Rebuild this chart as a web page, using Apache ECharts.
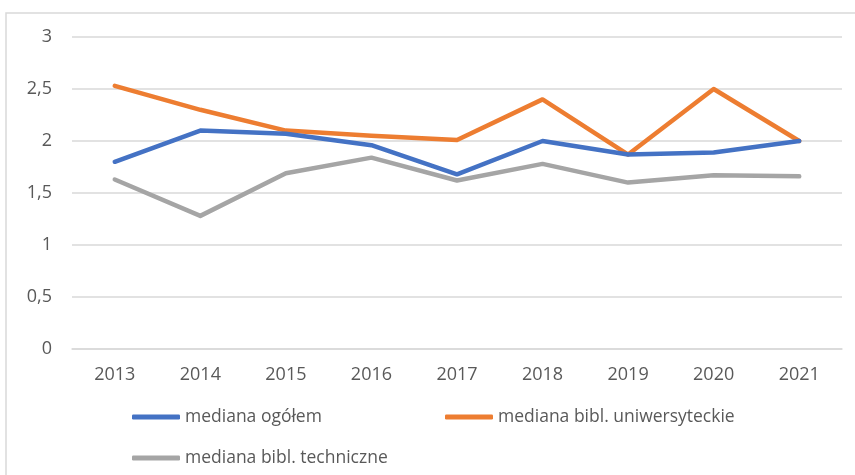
<!DOCTYPE html>
<html>
<head>
<meta charset="utf-8">
<script src="https://cdn.jsdelivr.net/npm/echarts@6/dist/echarts.min.js"></script>
<style>
html,body{margin:0;padding:0;background:#fff;}
#chart{width:855px;height:475px;}
</style>
</head>
<body>
<div id="chart"></div>
<script>
const years = ['2013','2014','2015','2016','2017','2018','2019','2020','2021'];
const medianaOgolem = [1.80, 2.10, 2.07, 1.96, 1.68, 2.00, 1.87, 1.89, 2.00];
const medianaUniwersyteckie = [2.53, 2.30, 2.10, 2.05, 2.01, 2.40, 1.87, 2.50, 2.00];
const medianaTechniczne = [1.63, 1.28, 1.69, 1.84, 1.62, 1.78, 1.60, 1.67, 1.66];
const seriesNames = ['mediana ogółem', 'mediana bibl. uniwersyteckie', 'mediana bibl. techniczne'];
const colors = ['#4472C4', '#ED7D31', '#A5A5A5'];

const font = '"Open Sans", "Liberation Sans", sans-serif';
const chart = echarts.init(document.getElementById('chart'), null, {renderer: 'canvas'});

function legendAt(name, left, top) {
  return {
    data: [name], left: left, top: top, orient: 'horizontal',
    icon: 'roundRect', itemWidth: 48, itemHeight: 5,
    textStyle: {color: '#595959', fontSize: 17.5, fontFamily: font},
    selectedMode: false
  };
}

chart.setOption({
  animation: false,
  backgroundColor: '#ffffff',
  color: colors,
  graphic: [{
    type: 'rect', shape: {x: 6, y: 13, width: 870, height: 480},
    style: {fill: 'none', stroke: '#d9d9d9', lineWidth: 1.5}, silent: true
  }],
  grid: {left: 72, right: 13, top: 37, bottom: 126, containLabel: false},
  legend: [
    legendAt(seriesNames[0], 127, 403),
    legendAt(seriesNames[1], 440, 403),
    legendAt(seriesNames[2], 127, 444)
  ],
  xAxis: {
    type: 'category', data: years, boundaryGap: true,
    axisLine: {show: true, lineStyle: {color: '#d9d9d9', width: 1.5}},
    axisTick: {show: false},
    axisLabel: {color: '#595959', fontSize: 18, fontFamily: font, margin: 17}
  },
  yAxis: {
    type: 'value', min: 0, max: 3, interval: 0.5,
    axisLine: {show: false}, axisTick: {show: false},
    splitLine: {lineStyle: {color: '#d9d9d9', width: 1.5}},
    axisLabel: {color: '#595959', fontSize: 18, fontFamily: font, margin: 20,
      formatter: v => String(v).replace('.', ',')}
  },
  series: [
    {name: seriesNames[0], type: 'line', data: medianaOgolem},
    {name: seriesNames[1], type: 'line', data: medianaUniwersyteckie},
    {name: seriesNames[2], type: 'line', data: medianaTechniczne}
  ].map((s, i) => Object.assign(s, {
    showSymbol: false, symbol: 'none', z: 10 - i,
    lineStyle: {width: 4.5, color: colors[i], cap: 'round', join: 'round'},
    itemStyle: {color: colors[i]}
  }))
});
</script>
</body>
</html>
